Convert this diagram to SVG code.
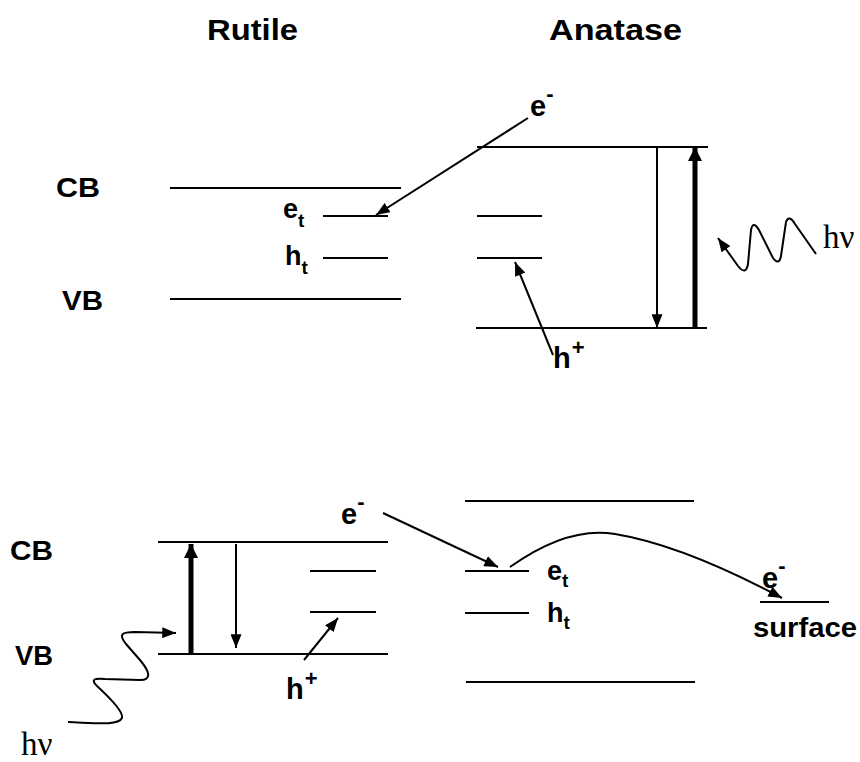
<svg xmlns="http://www.w3.org/2000/svg" width="860" height="762" viewBox="0 0 860 762">
<style>
.lvl{stroke:#000;stroke-width:2;fill:none}
.t{font-family:"Liberation Sans",Arial,sans-serif;font-weight:bold;fill:#000}
.big{font-size:29px}
.lab{font-size:27px}
.lab2{font-size:29px}
.sub{font-size:19px}
.sup{font-size:22px}
.s{font-family:"Liberation Serif","Times New Roman",serif;font-size:33px;fill:#000}
.arr{stroke:#000;stroke-width:2;fill:none}
.thick{stroke:#000;stroke-width:5;fill:none}
</style>
<defs>
<marker id="ah" viewBox="0 0 10 8" refX="10" refY="4" markerWidth="14" markerHeight="11" markerUnits="userSpaceOnUse" orient="auto"><path d="M0,0 L10,4 L0,8 z" fill="#000"/></marker>
<marker id="ahb" viewBox="0 0 10 10" refX="10" refY="5" markerWidth="14" markerHeight="17" markerUnits="userSpaceOnUse" orient="auto"><path d="M0,0 L10,5 L0,10 z" fill="#000"/></marker>
</defs>
<rect width="860" height="762" fill="#fff"/>

<g id="titles">
<text class="t big" x="207" y="40" textLength="91" lengthAdjust="spacingAndGlyphs">Rutile</text>
<text class="t big" x="549" y="40" textLength="133" lengthAdjust="spacingAndGlyphs">Anatase</text>
</g>

<!-- top rutile -->
<g id="rutile-top-cb"><line class="lvl" x1="170" y1="188" x2="401" y2="188"/><text class="t lab" x="56" y="197" textLength="44" lengthAdjust="spacingAndGlyphs">CB</text></g>
<g id="rutile-top-et"><line class="lvl" x1="323" y1="216" x2="388" y2="216"/><text class="t lab" x="283" y="218">e<tspan class="sub" dy="9">t</tspan></text></g>
<g id="rutile-top-ht"><line class="lvl" x1="323" y1="258" x2="388" y2="258"/><text class="t lab" x="285" y="265">h<tspan class="sub" dy="9">t</tspan></text></g>
<g id="rutile-top-vb"><line class="lvl" x1="170" y1="299" x2="401" y2="299"/><text class="t lab" x="62" y="310" textLength="41" lengthAdjust="spacingAndGlyphs">VB</text></g>

<!-- top anatase -->
<g id="anatase-top-cb"><line class="lvl" x1="477" y1="147" x2="708" y2="147"/></g>
<g id="anatase-top-trap1"><line class="lvl" x1="477" y1="216" x2="542" y2="216"/></g>
<g id="anatase-top-trap2"><line class="lvl" x1="477" y1="258" x2="542" y2="258"/></g>
<g id="anatase-top-vb"><line class="lvl" x1="476" y1="328" x2="707" y2="328"/></g>
<g id="label-top-e"><text class="t lab2" x="530" y="116">e<tspan class="sup" dy="-15">-</tspan></text></g>
<g id="label-top-h"><text class="t lab2" x="553" y="368">h<tspan class="sup" dy="-13" dx="1">+</tspan></text></g>
<g id="label-top-hv"><text class="s" x="823" y="248">hν</text></g>

<!-- bottom rutile -->
<g id="rutile-bot-cb"><line class="lvl" x1="158" y1="542" x2="388" y2="542"/><text class="t lab" x="10" y="560" textLength="43" lengthAdjust="spacingAndGlyphs">CB</text></g>
<g id="rutile-bot-trap1"><line class="lvl" x1="310" y1="571" x2="376" y2="571"/></g>
<g id="rutile-bot-trap2"><line class="lvl" x1="310" y1="612" x2="376" y2="612"/></g>
<g id="rutile-bot-vb"><line class="lvl" x1="158" y1="654" x2="388" y2="654"/><text class="t lab" x="15" y="665" textLength="38" lengthAdjust="spacingAndGlyphs">VB</text></g>
<g id="label-bot-h"><text class="t lab2" x="286" y="699">h<tspan class="sup" dy="-13" dx="1">+</tspan></text></g>
<g id="label-bot-hv"><text class="s" x="21" y="755">hν</text></g>
<g id="label-bot-e"><text class="t lab2" x="341" y="524">e<tspan class="sup" dy="-15">-</tspan></text></g>

<!-- bottom anatase -->
<g id="anatase-bot-cb"><line class="lvl" x1="465" y1="501" x2="694" y2="501"/></g>
<g id="anatase-bot-et"><line class="lvl" x1="465" y1="571" x2="529" y2="571"/><text class="t lab" x="547" y="580">e<tspan class="sub" dy="7">t</tspan></text></g>
<g id="anatase-bot-ht"><line class="lvl" x1="465" y1="613" x2="529" y2="613"/><text class="t lab" x="547" y="622">h<tspan class="sub" dy="7">t</tspan></text></g>
<g id="anatase-bot-vb"><line class="lvl" x1="466" y1="682" x2="695" y2="682"/></g>
<g id="surface"><line class="lvl" x1="760" y1="602" x2="829" y2="602"/><text class="t lab2" x="762" y="588">e<tspan class="sup" dy="-15">-</tspan></text><text class="t lab" x="753" y="637" textLength="104" lengthAdjust="spacingAndGlyphs">surface</text></g>

<g id="connectors">
<line class="arr" x1="657" y1="147" x2="657" y2="328" marker-end="url(#ah)"/>
<line class="thick" x1="695" y1="328" x2="695" y2="147" marker-end="url(#ahb)"/>
<line class="arr" x1="528" y1="118" x2="376" y2="215" marker-end="url(#ah)"/>
<line class="arr" x1="553" y1="355" x2="515" y2="262" marker-end="url(#ah)"/>
<path class="arr" d="M816,254 L795,224 Q789,214 786,222 L781,256 Q779,266 773,258 L759,230 Q753,220 751,230 L748,264 Q746,276 738,266 L718,238" marker-end="url(#ah)"/>
<line class="thick" x1="191" y1="654" x2="191" y2="544" marker-end="url(#ahb)"/>
<line class="arr" x1="236" y1="544" x2="236" y2="648" marker-end="url(#ah)"/>
<path class="arr" d="M68,722 C95,723 118,726 122,718 C124,712 110,698 97,686 C90,679 95,678 105,679 L140,680 C152,680 150,672 140,660 L126,644 C118,634 122,632 135,632 L176,633" marker-end="url(#ah)"/>
<line class="arr" x1="304" y1="660" x2="338" y2="618" marker-end="url(#ah)"/>
<line class="arr" x1="383" y1="513" x2="498" y2="567" marker-end="url(#ah)"/>
<path class="arr" d="M510,567 C545,542 580,528 615,534 C670,543 735,573 782,598" marker-end="url(#ah)"/>
</g>
</svg>
